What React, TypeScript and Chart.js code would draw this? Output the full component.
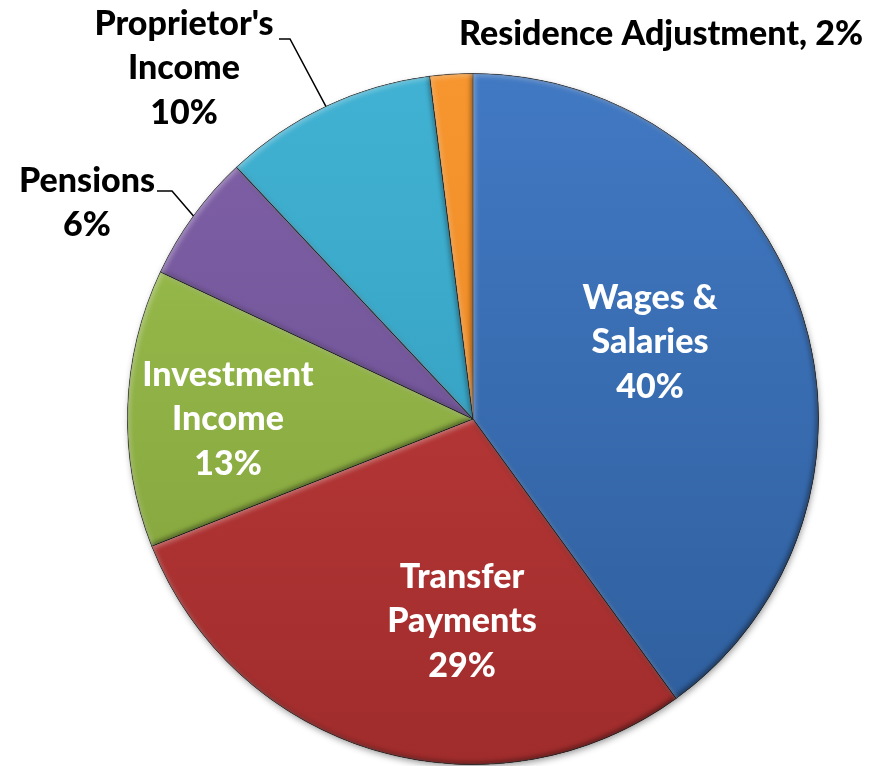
import React, { useEffect, useRef } from "react";
import { Chart, registerables } from "chart.js";

Chart.register(...registerables);

const categories = [
  "Wages & Salaries",
  "Transfer Payments",
  "Investment Income",
  "Pensions",
  "Proprietor's Income",
  "Residence Adjustment",
];
const shares = [40, 29, 13, 6, 10, 2];
const labelLines = [
  ["Wages &", "Salaries", "40%"],
  ["Transfer", "Payments", "29%"],
  ["Investment", "Income", "13%"],
  ["Pensions", "6%"],
  ["Proprietor's", "Income", "10%"],
  ["Residence Adjustment, 2%"],
];
const topColors = ["#4179c3", "#c43f3d", "#9dc150", "#8061a8", "#41b2d3", "#f7962f"];
const bottomColors = ["#2e5d9b", "#a02c2c", "#7f9e38", "#664a8c", "#2f97b8", "#e6821f"];

// layout: label anchor (first line centre, relative to pie centre), colour, leader line
const labelLayout = [
  { dx: 177, dy: -121, color: "#ffffff", leader: null },
  { dx: -11, dy: 158, color: "#ffffff", leader: null },
  { dx: -245, dy: -44, color: "#ffffff", leader: null },
  { dx: -386, dy: -238, color: "#000000", leader: { ex: -316, ey: -228, kx: -301 } },
  { dx: -289, dy: -395, color: "#000000", leader: { ex: -194, ey: -380, kx: -183 } },
  { dx: 188, dy: -385, color: "#000000", leader: null },
];

const FONT = "900 34px Lato";
const LINE_H = 44.5;

function arcPath(ctx: CanvasRenderingContext2D, a: any) {
  ctx.beginPath();
  ctx.moveTo(a.x, a.y);
  ctx.arc(a.x, a.y, a.outerRadius, a.startAngle, a.endAngle);
  ctx.closePath();
}

const bevelPlugin = {
  id: "bevel",
  beforeDatasetsDraw(chart: any) {
    const meta = chart.getDatasetMeta(0);
    const a0 = meta.data[0];
    if (!a0) return;
    const ctx = chart.ctx as CanvasRenderingContext2D;
    ctx.save();
    ctx.shadowColor = "rgba(0,0,0,0.45)";
    ctx.shadowBlur = 7;
    ctx.shadowOffsetX = 1;
    ctx.shadowOffsetY = 3;
    ctx.fillStyle = "#ffffff";
    ctx.beginPath();
    ctx.arc(a0.x, a0.y, a0.outerRadius - 1, 0, Math.PI * 2);
    ctx.fill();
    ctx.restore();
  },
  afterDatasetsDraw(chart: any) {
    const meta = chart.getDatasetMeta(0);
    const ctx = chart.ctx as CanvasRenderingContext2D;
    meta.data.forEach((a: any) => {
      const inner = (color: string, ox: number, oy: number, blur: number) => {
        ctx.save();
        arcPath(ctx, a);
        ctx.clip();
        ctx.beginPath();
        ctx.rect(a.x - 2000, a.y - 2000, 4000, 4000);
        ctx.moveTo(a.x, a.y);
        ctx.arc(a.x, a.y, a.outerRadius, a.startAngle, a.endAngle);
        ctx.closePath();
        ctx.shadowColor = color;
        ctx.shadowBlur = blur;
        ctx.shadowOffsetX = ox;
        ctx.shadowOffsetY = oy;
        ctx.fillStyle = "#000";
        ctx.fill("evenodd");
        ctx.restore();
      };
      inner("rgba(0,0,0,0.45)", -2, -2, 5);
      inner("rgba(255,255,255,0.35)", 2, 2, 5);
    });
  },
};

const labelPlugin = {
  id: "sliceLabels",
  afterDraw(chart: any) {
    const meta = chart.getDatasetMeta(0);
    const ctx = chart.ctx as CanvasRenderingContext2D;
    const a0 = meta.data[0];
    if (!a0) return;
    const cx = a0.x;
    const cy = a0.y;
    ctx.save();
    ctx.font = FONT;
    ctx.textAlign = "center";
    ctx.textBaseline = "middle";
    meta.data.forEach((a: any, i: number) => {
      const L = labelLayout[i];
      ctx.fillStyle = L.color;
      labelLines[i].forEach((t, k) => {
        ctx.fillText(t, cx + L.dx, cy + L.dy + k * LINE_H);
      });
      if (L.leader) {
        const mid = (a.startAngle + a.endAngle) / 2;
        const px = a.x + Math.cos(mid) * a.outerRadius;
        const py = a.y + Math.sin(mid) * a.outerRadius;
        ctx.strokeStyle = "#000";
        ctx.lineWidth = 1.5;
        ctx.beginPath();
        ctx.moveTo(cx + L.leader.ex, cy + L.leader.ey);
        ctx.lineTo(cx + L.leader.kx, cy + L.leader.ey);
        ctx.lineTo(px, py);
        ctx.stroke();
      }
    });
    ctx.restore();
  },
};

export default function App() {
  const ref = useRef<HTMLCanvasElement | null>(null);
  useEffect(() => {
    if (!ref.current) return;
    const chart = new Chart(ref.current, {
      type: "pie",
      data: {
        labels: categories,
        datasets: [
          {
            data: shares,
            backgroundColor: (c: any) => {
              const ch = c.chart;
              const area = ch.chartArea;
              if (!area) return topColors[c.dataIndex];
              const g = ch.ctx.createLinearGradient(0, area.top, 0, area.bottom);
              g.addColorStop(0, topColors[c.dataIndex]);
              g.addColorStop(1, bottomColors[c.dataIndex]);
              return g;
            },
            borderColor: "rgba(40,40,40,0.55)",
            borderWidth: 1,
          },
        ],
      },
      options: {
        animation: false,
        responsive: true,
        maintainAspectRatio: false,
        layout: { padding: { top: 73, bottom: 1, left: 127, right: 67 } },
        plugins: {
          legend: { display: false },
          tooltip: { enabled: false },
        },
      },
      plugins: [bevelPlugin, labelPlugin],
    });
    return () => chart.destroy();
  }, []);
  return (
    <div style={{ position: "absolute", left: 0, top: 0, width: 886, height: 766, background: "#fff" }}>
      <canvas ref={ref} />
    </div>
  );
}
